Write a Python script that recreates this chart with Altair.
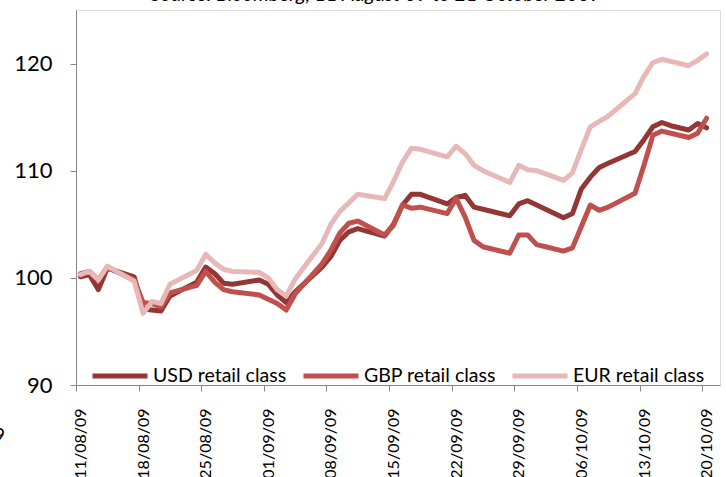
import altair as alt
import pandas as pd

# ---- data ----
dates = [
    "2009-08-11", "2009-08-12", "2009-08-13", "2009-08-14", "2009-08-17",
    "2009-08-18", "2009-08-19", "2009-08-20", "2009-08-21", "2009-08-24",
    "2009-08-25", "2009-08-26", "2009-08-27", "2009-08-28", "2009-08-31",
    "2009-09-01", "2009-09-02", "2009-09-03", "2009-09-04", "2009-09-07",
    "2009-09-08", "2009-09-09", "2009-09-10", "2009-09-11", "2009-09-14",
    "2009-09-15", "2009-09-16", "2009-09-17", "2009-09-18", "2009-09-21",
    "2009-09-22", "2009-09-23", "2009-09-24", "2009-09-25", "2009-09-28",
    "2009-09-29", "2009-09-30", "2009-10-01", "2009-10-02", "2009-10-04",
    "2009-10-05", "2009-10-06", "2009-10-07", "2009-10-08", "2009-10-09",
    "2009-10-12", "2009-10-13", "2009-10-14", "2009-10-15", "2009-10-16",
    "2009-10-18", "2009-10-19", "2009-10-20",
]
usd = [
    100.1, 100.3, 98.9, 100.9, 100.1,
    97.1, 97.0, 96.9, 98.3, 99.6,
    101.0, 100.4, 99.5, 99.4, 99.8,
    99.4, 98.4, 97.7, 98.7, 101.0,
    102.0, 103.5, 104.3, 104.6, 103.9,
    105.0, 106.8, 107.8, 107.8, 106.9,
    107.5, 107.7, 106.6, 106.4, 105.8,
    106.9, 107.2, 106.8, 106.4, 105.6,
    106.0, 108.3, 109.4, 110.3, 110.7,
    111.8, 112.9, 114.1, 114.5, 114.2,
    113.8, 114.4, 114.0,
]
gbp = [
    100.4, 100.6, 99.8, 101.0, 99.8,
    97.7, 97.6, 97.3, 98.6, 99.3,
    100.6, 99.6, 98.9, 98.7, 98.4,
    98.0, 97.6, 97.0, 98.5, 101.3,
    102.6, 104.2, 105.1, 105.3, 104.0,
    104.9, 106.8, 106.5, 106.6, 106.0,
    107.4, 105.7, 103.5, 102.9, 102.3,
    104.0, 104.0, 103.1, 102.9, 102.5,
    102.8, 104.8, 106.8, 106.3, 106.6,
    107.9, 110.5, 113.3, 113.7, 113.5,
    113.1, 113.5, 114.9,
]
eur = [
    100.3, 100.6, 99.8, 101.1, 99.7,
    96.7, 97.8, 97.6, 99.4, 100.7,
    102.2, 101.4, 100.8, 100.6, 100.5,
    100.0, 98.9, 98.3, 99.9, 103.2,
    105.0, 106.2, 107.0, 107.8, 107.4,
    109.0, 110.8, 112.1, 112.0, 111.3,
    112.3, 111.6, 110.5, 110.0, 108.9,
    110.5, 110.1, 110.0, 109.7, 109.1,
    109.8, 112.0, 114.1, 114.6, 115.1,
    117.2, 118.8, 120.1, 120.4, 120.2,
    119.8, 120.3, 120.9,
]
series_names = ["USD retail class", "GBP retail class", "EUR retail class"]
series_colors = ["#943634", "#C0504D", "#E6B9B8"]
tick_labels = ["11/08/09", "18/08/09", "25/08/09", "01/09/09", "08/09/09", "15/09/09",
               "22/09/09", "29/09/09", "06/10/09", "13/10/09", "20/10/09"]
y_ticks = [90, 100, 110, 120]
title_text = "Source: Bloomberg, 11 August 09 to 21 October 2009"

# ---- build table ----
start = pd.Timestamp("2009-08-11")
day = [(pd.Timestamp(d) - start).days + 0.5 for d in dates]
rows = []
for name, vals in zip(series_names, [usd, gbp, eur]):
    for dd, v in zip(day, vals):
        rows.append({"day": dd, "value": v, "series": name})
df = pd.DataFrame(rows)

label_expr = "[" + ",".join("'" + t + "'" for t in tick_labels) + "][round(datum.value/7)]"
FONT = "Lato"

lines = alt.Chart(df).mark_line(strokeWidth=5, strokeCap="round", strokeJoin="round").encode(
    x=alt.X("day:Q",
            scale=alt.Scale(domain=[0, 72], nice=False, zero=False),
            axis=alt.Axis(values=[7 * i for i in range(len(tick_labels))],
                          labelExpr=label_expr, labelAngle=270, labelOffset=4.5,
                          labelFontSize=16, labelFont=FONT, labelColor="#000000",
                          labelPadding=17, tickSize=6, tickColor="#868686",
                          domainColor="#868686", grid=False, title=None)),
    y=alt.Y("value:Q",
            scale=alt.Scale(domain=[90, 125], nice=False, zero=False),
            axis=alt.Axis(values=y_ticks, labelFontSize=22, labelFont=FONT,
                          labelColor="#000000", labelPadding=18, tickSize=6,
                          tickColor="#868686", domainColor="#868686",
                          grid=False, title=None)),
    color=alt.Color("series:N",
                    scale=alt.Scale(domain=series_names, range=series_colors),
                    sort=series_names,
                    legend=alt.Legend(orient="none", legendX=14, legendY=336,
                                      direction="horizontal", title=None,
                                      symbolType="stroke", symbolSize=3025,
                                      symbolStrokeWidth=5, labelFontSize=19.5,
                                      labelFont=FONT, labelColor="#000000",
                                      labelOffset=3, columnPadding=6, padding=0)),
    detail="series:N",
)

title_layer = alt.Chart(pd.DataFrame({"t": [title_text]})).mark_text(
    font=FONT, fontSize=20, fontStyle="italic", align="center", baseline="alphabetic",
    color="#000000"
).encode(text="t:N", x=alt.value(300), y=alt.value(-9))

frag_layer = alt.Chart(pd.DataFrame({"t": ["9"]})).mark_text(
    font=FONT, fontSize=20, align="right", baseline="alphabetic", color="#000000"
).encode(text="t:N", x=alt.value(-71), y=alt.value(432))

chart = alt.layer(lines, title_layer, frag_layer).properties(
    width=644, height=375,
    autosize=alt.AutoSizeParams(type="none"),
    padding={"left": 76, "top": 10, "right": 6, "bottom": 92},
).configure_view(stroke=None).configure(background="#ffffff")

chart.save("out.html", embed_options={"renderer": "svg", "actions": False})
